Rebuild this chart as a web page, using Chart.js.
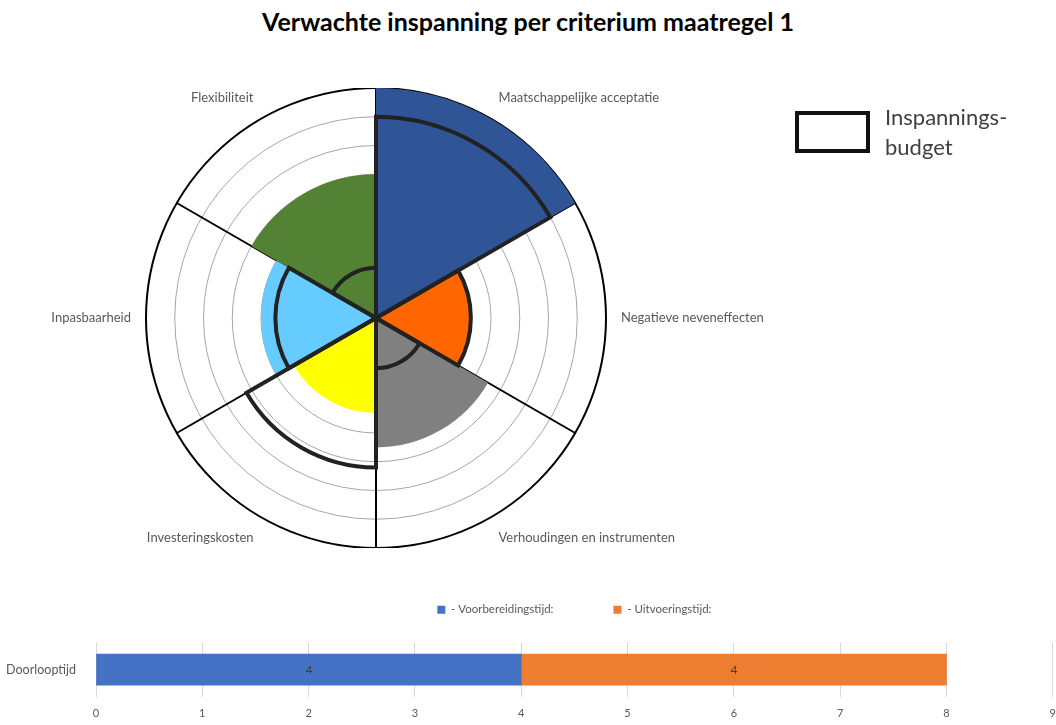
<!DOCTYPE html>
<html lang="nl">
<head>
<meta charset="utf-8">
<title>Verwachte inspanning per criterium maatregel 1</title>
<script src="https://cdn.jsdelivr.net/npm/chart.js@4.4.1/dist/chart.umd.min.js"></script>
<style>
  html, body { margin: 0; padding: 0; background: #fff; }
  body { width: 1056px; height: 725px; position: relative; overflow: hidden; font-family: Lato, sans-serif; }
  #title { position: absolute; left: 0; top: 6px; width: 1056px; text-align: center; font: bold 25px Lato, sans-serif; color: #000; }
  #polar { position: absolute; left: -60px; top: 88px; }
  #bar { position: absolute; left: 0; top: 544px; }
  #budgetBox { position: absolute; left: 795px; top: 111px; width: 75px; height: 42px; box-sizing: border-box; border: 4px solid #111; }
  #budgetText { position: absolute; left: 885px; top: 102px; font: 22px Lato, sans-serif; line-height: 30px; color: #404040; }
</style>
</head>
<body>
<div id="title">Verwachte inspanning per criterium maatregel 1</div>
<canvas id="polar" width="872" height="460"></canvas>
<canvas id="bar" width="1066" height="186"></canvas>
<div id="budgetBox"></div>
<div id="budgetText">Inspannings-<br>budget</div>

<script>
// === DATA ===
const criteria = [
  'Maatschappelijke acceptatie',
  'Negatieve neveneffecten',
  'Verhoudingen en instrumenten',
  'Investeringskosten',
  'Inpasbaarheid',
  'Flexibiliteit'
];
const verwachteInspanning = [8, 3.3, 4.5, 3.3, 4, 5];
const inspanningsBudget = [7, 3.3, 1.75, 5.2, 3.5, 1.75];
const scaleMax = 8;

const fases = ['- Voorbereidingstijd:', '- Uitvoeringstijd:'];
const barCategories = ['Doorlooptijd'];
const voorbereidingstijd = [4];
const uitvoeringstijd = [4];
const xTickMax = 9;

// === STYLES ===
const sectorColors = ['#2F5597', '#FF6600', '#808080', '#FFFF00', '#66CCFF', '#548235'];
const labelColor = '#595959';

// === POLAR CHART ===
new Chart(document.getElementById('polar'), {
  type: 'polarArea',
  data: {
    labels: criteria,
    datasets: [
      {
        label: 'Inspanningsbudget',
        data: inspanningsBudget,
        backgroundColor: 'rgba(0,0,0,0)',
        borderColor: '#222',
        borderWidth: 4,
        borderJoinStyle: 'miter'
      },
      {
        label: 'Verwachte inspanning',
        data: verwachteInspanning,
        backgroundColor: sectorColors,
        borderWidth: 0
      }
    ]
  },
  options: {
    responsive: false,
    animation: false,
    layout: { padding: 0 },
    plugins: { legend: { display: false }, tooltip: { enabled: false } },
    scales: {
      r: {
        min: 0,
        max: scaleMax,
        ticks: { display: false, stepSize: 1 },
        grid: {
          circular: true,
          color: ctx => ctx.index === scaleMax ? '#000' : '#a6a6a6',
          lineWidth: ctx => ctx.index === scaleMax ? 2 : 1
        },
        angleLines: { display: true, color: '#000', lineWidth: 2 },
        pointLabels: {
          display: true,
          centerPointLabels: true,
          padding: 15,
          color: labelColor,
          font: { family: 'Lato', size: 13 }
        }
      }
    }
  }
});

// === BAR CHART PLUGINS ===
const valueLabels = {
  id: 'valueLabels',
  afterDatasetsDraw(chart) {
    const { ctx } = chart;
    ctx.save();
    ctx.font = '12px Lato';
    ctx.fillStyle = '#404040';
    ctx.textAlign = 'center';
    ctx.textBaseline = 'middle';
    chart.data.datasets.forEach((ds, i) => {
      chart.getDatasetMeta(i).data.forEach((bar, j) => {
        const { x, y, base } = bar.getProps(['x', 'y', 'base'], true);
        ctx.fillText(ds.data[j], (x + base) / 2, y);
      });
    });
    ctx.restore();
  }
};

const legendSpacing = {
  id: 'legendSpacing',
  beforeInit(chart) {
    const fit = chart.legend.fit;
    chart.legend.fit = function () {
      fit.call(this);
      this.height += 17;
    };
  }
};

// === BAR CHART ===
new Chart(document.getElementById('bar'), {
  type: 'bar',
  data: {
    labels: barCategories,
    datasets: [
      { label: fases[0], data: voorbereidingstijd, backgroundColor: '#4472C4' },
      { label: fases[1], data: uitvoeringstijd, backgroundColor: '#ED7D31' }
    ]
  },
  options: {
    indexAxis: 'y',
    responsive: false,
    animation: false,
    layout: { padding: 0 },
    datasets: { bar: { barThickness: 31 } },
    plugins: {
      legend: {
        position: 'top',
        fullSize: false,
        labels: {
          boxWidth: 8,
          boxHeight: 8,
          padding: 60,
          color: labelColor,
          font: { family: 'Lato', size: 11.5 }
        }
      },
      tooltip: { enabled: false }
    },
    scales: {
      x: {
        stacked: true,
        min: 0,
        max: xTickMax,
        ticks: { stepSize: 1, padding: 10, color: labelColor, font: { family: 'Lato', size: 11 } },
        grid: { color: '#d9d9d9', drawTicks: false },
        border: { display: false }
      },
      y: {
        stacked: true,
        ticks: { padding: 12, color: labelColor, font: { family: 'Lato', size: 12.5 } },
        grid: { display: false },
        border: { display: false },
        afterFit: scale => { scale.width = 96; }
      }
    }
  },
  plugins: [valueLabels, legendSpacing]
});
</script>
</body>
</html>
